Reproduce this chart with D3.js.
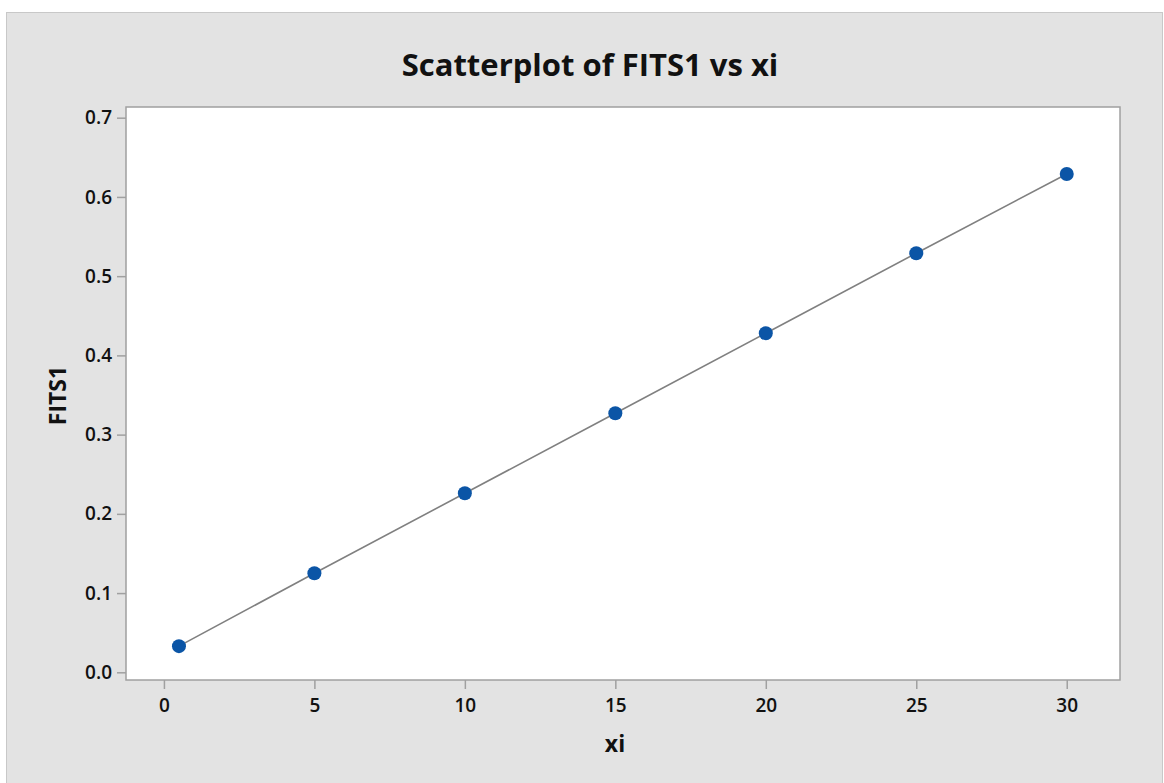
<!DOCTYPE html>
<html>
<head>
<meta charset="utf-8">
<script src="https://cdn.jsdelivr.net/npm/d3@7"></script>
<style>
  html, body { margin: 0; padding: 0; background: #ffffff; }
  svg { display: block; }
  text { font-family: "Open Sans", "Noto Sans", sans-serif; }
</style>
</head>
<body>
<svg id="chart" width="1164" height="783"></svg>
<script>
// Data
const xi = [0.5, 5, 10, 15, 20, 25, 30];
const fits1 = [0.033, 0.125, 0.226, 0.327, 0.428, 0.529, 0.629];
const xTicks = [0, 5, 10, 15, 20, 25, 30];
const yTicks = [0.0, 0.1, 0.2, 0.3, 0.4, 0.5, 0.6, 0.7];

const W = 1164, H = 783;
const plot = { left: 126, top: 107, right: 1120, bottom: 680 };

const svg = d3.select("#chart");

// Outer panel
svg.append("rect")
  .attr("x", 6.5).attr("y", 12.5)
  .attr("width", W - 8).attr("height", H - 12)
  .attr("fill", "#e3e3e3")
  .attr("stroke", "#c8c8c8").attr("stroke-width", 1);

const x = d3.scaleLinear().domain([-1.26, 31.77]).range([plot.left, plot.right]);
const y = d3.scaleLinear().domain([-0.0097, 0.7135]).range([plot.bottom, plot.top]);

// Data region
svg.append("rect")
  .attr("x", plot.left).attr("y", plot.top)
  .attr("width", plot.right - plot.left).attr("height", plot.bottom - plot.top)
  .attr("fill", "#ffffff")
  .attr("stroke", "#a0a0a0").attr("stroke-width", 1.5);

// Axes
const xAxis = d3.axisBottom(x).tickValues(xTicks).tickSize(9).tickPadding(5)
  .tickFormat(d3.format("d"));
const yAxis = d3.axisLeft(y).tickValues(yTicks).tickSize(9).tickPadding(5)
  .tickFormat(d3.format(".1f"));

const gx = svg.append("g").attr("transform", `translate(0,${plot.bottom})`).call(xAxis);
const gy = svg.append("g").attr("transform", `translate(${plot.left},0)`).call(yAxis);

[gx, gy].forEach(g => {
  g.select(".domain").remove();
  g.selectAll(".tick line").attr("stroke", "#a0a0a0").attr("stroke-width", 1.5);
  g.selectAll(".tick text")
    .attr("fill", "#111")
    .style("font-size", "19px")
    .style("font-weight", "600");
});
gx.selectAll(".tick text").attr("dy", "0.95em");

// Fitted line
const line = d3.line().x((d, i) => x(xi[i])).y(d => y(d));
svg.append("path")
  .datum(fits1)
  .attr("d", line)
  .attr("fill", "none")
  .attr("stroke", "#808080")
  .attr("stroke-width", 1.6);

// Points
svg.append("g").selectAll("circle")
  .data(fits1)
  .join("circle")
  .attr("cx", (d, i) => x(xi[i]))
  .attr("cy", d => y(d))
  .attr("r", 7)
  .attr("fill", "#0b55a6");

// Title
svg.append("text")
  .attr("x", 590).attr("y", 76)
  .attr("text-anchor", "middle")
  .style("font-size", "31px")
  .style("font-weight", "700")
  .attr("fill", "#111")
  .text("Scatterplot of FITS1 vs xi");

// Axis titles
svg.append("text")
  .attr("x", (plot.left + plot.right) / 2 - 8).attr("y", 752)
  .attr("text-anchor", "middle")
  .style("font-size", "23px")
  .style("font-weight", "700")
  .attr("fill", "#111")
  .text("xi");

svg.append("text")
  .attr("transform", `translate(66,${(plot.top + plot.bottom) / 2 + 2}) rotate(-90)`)
  .attr("text-anchor", "middle")
  .style("font-size", "23px")
  .style("font-weight", "700")
  .attr("fill", "#111")
  .text("FITS1");
</script>
</body>
</html>
